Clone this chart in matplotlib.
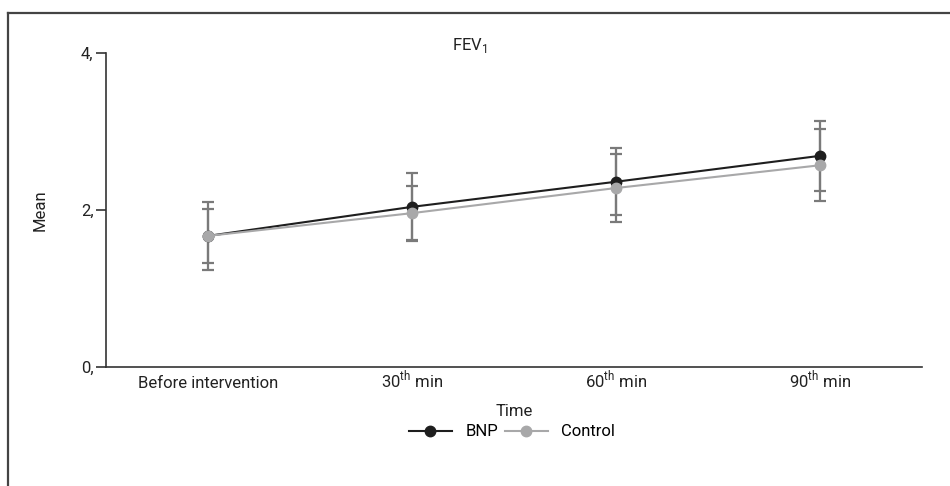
import matplotlib
matplotlib.use("Agg")
import matplotlib.pyplot as plt
from matplotlib.lines import Line2D
from matplotlib import font_manager

names = {f.name for f in font_manager.fontManager.ttflist}
FAM = ['Liberation Sans Narrow', 'DejaVu Sans'] if 'Liberation Sans Narrow' in names else ['Roboto', 'DejaVu Sans']
plt.rcParams['font.family'] = FAM
plt.rcParams['mathtext.fontset'] = 'custom'
plt.rcParams['mathtext.rm'] = FAM[0]

categories = ["Before intervention", r"30$^{\mathrm{th}}$ min", r"60$^{\mathrm{th}}$ min", r"90$^{\mathrm{th}}$ min"]
bnp_mean = [1.67, 2.04, 2.36, 2.69]
bnp_sd = [0.43, 0.43, 0.43, 0.45]
control_mean = [1.67, 1.96, 2.28, 2.57]
control_sd = [0.34, 0.34, 0.43, 0.46]
yticks = [0, 2, 4]
ytick_labels = ["0,", "2,", "4,"]

fig = plt.figure(figsize=(9.5, 4.86), dpi=100)
ax = fig.add_axes([106/950, 1-367/486, (922-106)/950, (367-53)/486])

x = list(range(len(categories)))
err_kw = dict(fmt='none', ecolor='#7a7a7a', elinewidth=1.6, capsize=4, capthick=1.6, zorder=2)
ax.errorbar(x, bnp_mean, yerr=bnp_sd, **err_kw)
ax.errorbar(x, control_mean, yerr=control_sd, **err_kw)
ax.plot(x, bnp_mean, color='#1e1e1e', lw=1.5, marker='o', ms=7.5, mfc='#1e1e1e', mec='#1e1e1e', zorder=3, label='BNP')
ax.plot(x, control_mean, color='#a8a8a9', lw=1.5, marker='o', ms=7.5, mfc='#a8a8a9', mec='#a8a8a9', zorder=4, label='Control')

ax.set_xlim(-0.5, 3.5)
ax.set_ylim(0, 4)
ax.set_yticks(yticks)
ax.set_yticklabels(ytick_labels)
ax.set_xticks(x)
ax.set_xticklabels(categories)
for s in ['top', 'right']:
    ax.spines[s].set_visible(False)
for s in ['left', 'bottom']:
    ax.spines[s].set_color('#333333')
    ax.spines[s].set_linewidth(1.2)
ax.tick_params(axis='y', length=7, width=1.2, color='#333333', labelsize=12, labelcolor='#222222', pad=2)
ax.tick_params(axis='x', length=0, labelsize=12, labelcolor='#222222', pad=15)
for lbl in ax.get_xticklabels():
    lbl.set_va('baseline')
ax.set_ylabel('Mean', fontsize=12, color='#222222', labelpad=24)

fig.text(514/950, 1-416/486, 'Time', fontsize=12, color='#222222', ha='center', va='baseline')
fig.text(470/950, 1-50/486, r'FEV$_{1}$', fontsize=12, color='#222222', ha='center', va='baseline')

handles = [Line2D([], [], color='#1e1e1e', lw=1.5, marker='o', ms=7.5),
           Line2D([], [], color='#a8a8a9', lw=1.5, marker='o', ms=7.5)]
fig.legend(handles, ['BNP', 'Control'], loc='center', bbox_to_anchor=(512/950, 1-432/486),
           ncol=2, frameon=False, fontsize=12, handlelength=2.6, columnspacing=0.4, handletextpad=0.8)

# outer frame (top and left lines)
fig.add_artist(Line2D([8/950, 1], [1-13/486, 1-13/486], color='#444444', lw=1.6, transform=fig.transFigure))
fig.add_artist(Line2D([8/950, 8/950], [0, 1-13/486], color='#444444', lw=1.6, transform=fig.transFigure))

fig.savefig('out.png', dpi=100)
